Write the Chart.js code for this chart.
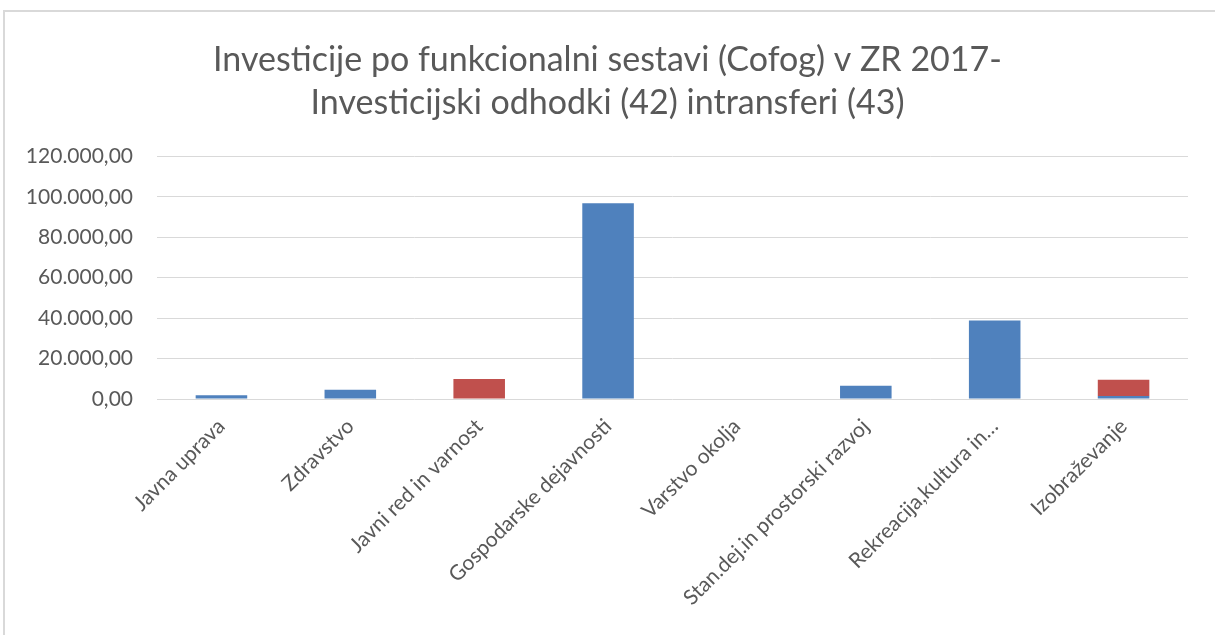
<!DOCTYPE html>
<html>
<head>
<meta charset="utf-8">
<script src="https://cdn.jsdelivr.net/npm/chart.js@4.4.0/dist/chart.umd.min.js"></script>
<style>
  body { margin: 0; background: #fff; }
  .okvir { position: absolute; left: 0; top: 0; width: 1215px; height: 635px; }
  .rob { position: absolute; left: 3px; top: 10px; width: 1240px; height: 660px; border: 2px solid #d9d9d9; box-sizing: border-box; }
</style>
</head>
<body>
<div class="rob"></div>
<div class="okvir"><canvas id="GraficoInvesticije" width="1215" height="635"></canvas></div>
<script>
// podatki
var kategorije = ["Javna uprava", "Zdravstvo", "Javni red in varnost", "Gospodarske dejavnosti", "Varstvo okolja", "Stan.dej.in prostorski razvoj", "Rekreacija,kultura in…", "Izobraževanje"];
var odhodki42 = [1800, 4600, 0, 96800, 0, 6600, 38800, 1500];
var transferi43 = [0, 0, 9900, 0, 0, 0, 0, 8000];
var naslov = ["Investicije po funkcionalni sestavi (Cofog) v ZR 2017-", "Investicijski odhodki (42) intransferi (43)"];

var pisava = "Lato, 'Liberation Sans', sans-serif";

function Oblikuj(vrednost) {
    var cela = Math.round(vrednost).toString();
    var s = cela.replace(/\B(?=(\d{3})+(?!\d))/g, ".");
    return s + ",00";
}

Chart.defaults.font.family = pisava;
Chart.defaults.color = "#595959";

new Chart(document.getElementById("GraficoInvesticije"), {
    type: 'bar',
    data: {
        labels: kategorije,
        datasets: [
            {
                label: "Investicijski odhodki (42)",
                data: odhodki42,
                backgroundColor: "#4f81bd",
                categoryPercentage: 1,
                barPercentage: 0.4
            },
            {
                label: "Investicijski transferi (43)",
                data: transferi43,
                backgroundColor: "#c0504d",
                categoryPercentage: 1,
                barPercentage: 0.4
            }
        ]
    },
    options: {
        responsive: false,
        animation: false,
        layout: { padding: { left: 27, right: 27, top: 0, bottom: 0 } },
        plugins: {
            legend: { display: false },
            tooltip: { enabled: false },
            title: {
                display: true,
                text: naslov,
                color: "#595959",
                font: { size: 34, weight: 'normal', lineHeight: 1.27 },
                padding: { top: 38, bottom: 32 }
            }
        },
        scales: {
            x: {
                stacked: true,
                grid: { display: false, drawTicks: false },
                border: { display: false },
                ticks: {
                    maxRotation: 45,
                    minRotation: 45,
                    autoSkip: false,
                    padding: 15,
                    font: { size: 21 },
                    color: "#595959"
                },
                afterFit: function (skala) { skala.height = 236; }
            },
            y: {
                stacked: true,
                min: 0,
                max: 120000,
                grid: { color: "#d9d9d9", lineWidth: 1, drawTicks: false },
                border: { display: false },
                ticks: {
                    stepSize: 20000,
                    padding: 24,
                    font: { size: 21 },
                    color: "#595959",
                    callback: function (v) { return Oblikuj(v); }
                },
                afterFit: function (skala) { skala.width = 130; }
            }
        }
    }
});
</script>
</body>
</html>
